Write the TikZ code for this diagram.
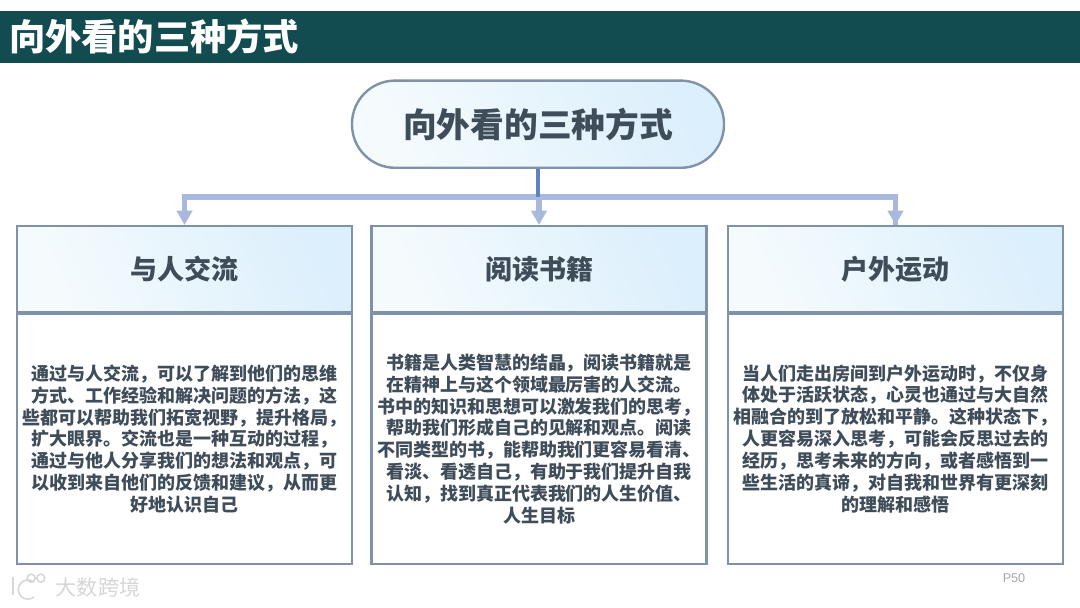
\documentclass[tikz,border=0pt]{standalone}
\usepackage{fontspec}
\usepackage{xcolor}
\usetikzlibrary{arrows.meta,positioning,calc}
\setmainfont{Noto Sans CJK SC}
\newfontfamily\latinfont{Liberation Sans}
\definecolor{franja}{HTML}{134C50}
\definecolor{tinta}{HTML}{3F4C5A}
\definecolor{borde}{HTML}{7F92A9}
\definecolor{cielo}{HTML}{DCEFFC}
\definecolor{nube}{HTML}{F5FBFD}
\definecolor{bus}{HTML}{A9B9DD}
\definecolor{tronco}{HTML}{5F82C2}
\definecolor{marca}{HTML}{D6D6D6}
\begin{document}
\begin{tikzpicture}[
  barra/.style={fill=franja,text=white,minimum height=1.3cm,text width=26.55cm,inner xsep=0.225cm,inner ysep=0pt,align=left,font=\fontsize{25.8}{30}\selectfont\bfseries},
  raiz/.style={draw=borde,line width=1.7pt,left color=nube,right color=cielo,shading angle=115,rounded corners=1.08cm,minimum width=9.3cm,minimum height=2.18cm,text=tinta,font=\fontsize{24}{28}\selectfont\bfseries},
  cabeza/.style={draw=borde,line width=1.7pt,left color=nube,right color=cielo,shading angle=115,minimum width=8.37cm,minimum height=2.14cm,text=tinta,font=\fontsize{19.2}{24}\selectfont\bfseries},
  cuerpo/.style={draw=borde,line width=1.7pt,fill=white,minimum width=8.37cm,minimum height=6.24cm,text=tinta,align=center,inner sep=0pt,font=\fontsize{12.8}{15.6}\selectfont\bfseries},
  flecha/.style={-{Triangle[length=3.6mm,width=3.8mm]},line width=3.6pt,bus},
  ramal/.style={line width=3.6pt,bus},
  tallo/.style={line width=3.4pt,tronco},
  sello/.style={draw=marca,line width=1.1pt}]
\useasboundingbox (0,0) rectangle (27,15.175);
\node[barra] (titulo) at (13.5,14.25) {向外看的三种方式};
\node[raiz] (centro) at (13.45,12.07) {向外看的三种方式};
\node[cabeza] (h1) at (4.6125,8.45) {与人交流};
\node[cabeza] (h2) at (13.475,8.45) {阅读书籍};
\node[cabeza] (h3) at (22.3875,8.45) {户外运动};
\node[cuerpo,below=0pt of h1] (b1) {通过与人交流，可以了解到他们的思维\\方式、工作经验和解决问题的方法，这\\些都可以帮助我们拓宽视野，提升格局，\\扩大眼界。交流也是一种互动的过程，\\通过与他人分享我们的想法和观点，可\\以收到来自他们的反馈和建议，从而更\\好地认识自己};
\node[cuerpo,below=0pt of h2] (b2) {书籍是人类智慧的结晶，阅读书籍就是\\在精神上与这个领域最厉害的人交流。\\书中的知识和思想可以激发我们的思考，\\帮助我们形成自己的见解和观点。阅读\\不同类型的书，能帮助我们更容易看清、\\看淡、看透自己，有助于我们提升自我\\认知，找到真正代表我们的人生价值、\\人生目标};
\node[cuerpo,below=0pt of h3] (b3) {当人们走出房间到户外运动时，不仅身\\体处于活跃状态，心灵也通过与大自然\\相融合的到了放松和平静。这种状态下，\\人更容易深入思考，可能会反思过去的\\经历，思考未来的方向，或者感悟到一\\些生活的真谛，对自我和世界有更深刻\\的理解和感悟};
\coordinate (cruce) at (13.45,10.25);
\draw[flecha] (cruce -| h2.north) -- (h2.north);
\draw[ramal] ([xshift=-1.8pt]cruce -| h1.north) -- (cruce -| h3.north) -- (h3.north);
\draw[flecha] (cruce -| h1.north) -- (h1.north);
\draw[flecha] (cruce -| h3.north) -- (h3.north);
\draw[tallo] (centro.south) -- (cruce);
\node[font=\fontsize{9}{11}\selectfont\latinfont,text=gray!70] (pagina) at (25.35,0.71) {P50};
\node[font=\fontsize{15}{18}\selectfont,text=marca] (sitio) at (2.45,0.5) {大数跨境};
\draw[sello] (0.32,0.75) -- (0.32,0.3);
\draw[sello] (0.85,0.62) arc (50:310:0.24);
\draw[sello] (0.78,0.72) circle (0.1);
\draw[sello] (1.02,0.72) circle (0.1);
\end{tikzpicture}
\end{document}
